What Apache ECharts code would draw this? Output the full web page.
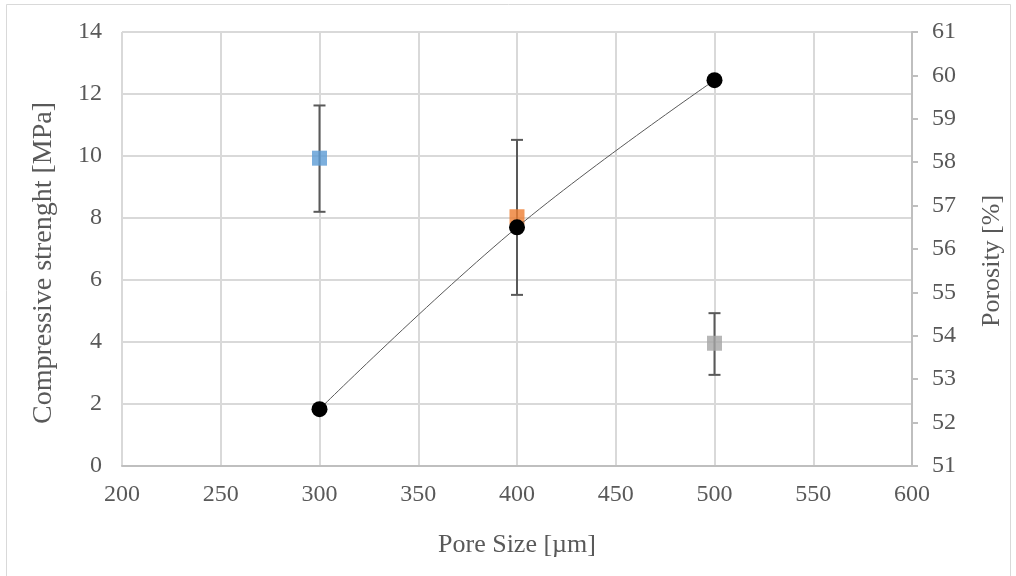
<!DOCTYPE html>
<html><head><meta charset="utf-8">
<script src="https://cdn.jsdelivr.net/npm/echarts@6/dist/echarts.min.js"></script>
<style>html,body{margin:0;padding:0;background:#fff}#c{width:1016px;height:576px}</style>
</head><body><div id="c"></div>
<script>
const poreSize = [300, 400, 500];
const strength = [9.93, 8.04, 3.96];
const errLow = [8.2, 5.52, 2.94];
const errHigh = [11.63, 10.52, 4.93];
const porosity = [52.31, 56.5, 59.89];
const markerColors = ['#5B9BD5', '#ED7D31', '#A5A5A5'];
const xTitle = 'Pore Size [µm]';
const yLeftTitle = 'Compressive strenght [MPa]';
const yRightTitle = 'Porosity [%]';

const txt = '#595959';
const font = 'Liberation Serif';
const chart = echarts.init(document.getElementById('c'));
chart.setOption({
  animation: false,
  backgroundColor: '#fff',
  graphic: [
    {type:'rect', shape:{x:6.5,y:4.5,width:1004,height:580}, style:{fill:'none', stroke:'#D9D9D9', lineWidth:1}},
    {type:'text', x:44, y:263, rotation:Math.PI/2,
     style:{text:yLeftTitle, fill:txt, font:'28px "Liberation Serif"', align:'center', verticalAlign:'middle'}},
    {type:'text', x:992, y:261, rotation:Math.PI/2,
     style:{text:yRightTitle, fill:txt, font:'26px "Liberation Serif"', align:'center', verticalAlign:'middle'}}
  ],
  grid: {left:122, right:104, top:32, bottom:110},
  xAxis: {type:'value', min:200, max:600, interval:50,
    name:xTitle, nameLocation:'middle', nameGap:66,
    nameTextStyle:{color:txt, fontFamily:font, fontSize:26},
    axisLine:{show:true, onZero:false, lineStyle:{color:'#BFBFBF', width:2}},
    axisTick:{show:false},
    axisLabel:{color:txt, fontFamily:font, fontSize:24, margin:17},
    splitLine:{show:true, lineStyle:{color:'#D9D9D9', width:2}}},
  yAxis: [
    {type:'value', min:0, max:14, interval:2,
     axisLine:{show:false}, axisTick:{show:false},
     axisLabel:{color:txt, fontFamily:font, fontSize:24, margin:20},
     splitLine:{show:true, lineStyle:{color:'#D9D9D9', width:2}}},
    {type:'value', min:51, max:61, interval:1, position:'right',
     axisLine:{show:true, lineStyle:{color:'#BFBFBF', width:2}},
     axisTick:{show:true, length:6, lineStyle:{color:'#BFBFBF', width:2}},
     axisLabel:{color:txt, fontFamily:font, fontSize:24, margin:20},
     splitLine:{show:false}}
  ],
  series: [
    {type:'custom', yAxisIndex:0, z:3,
     data: poreSize.map((x,i)=>[x, errLow[i], errHigh[i]]),
     renderItem: function(params, api){
       const lo = api.coord([api.value(0), api.value(1)]);
       const hi = api.coord([api.value(0), api.value(2)]);
       const w = 6;
       const st = {stroke:'#595959', lineWidth:2, fill:'none'};
       return {type:'group', children:[
         {type:'line', shape:{x1:lo[0],y1:lo[1],x2:hi[0],y2:hi[1]}, style:st},
         {type:'line', shape:{x1:lo[0]-w,y1:lo[1],x2:lo[0]+w,y2:lo[1]}, style:st},
         {type:'line', shape:{x1:hi[0]-w,y1:hi[1],x2:hi[0]+w,y2:hi[1]}, style:st}
       ]};
     }},
    {type:'scatter', yAxisIndex:0, z:4, symbol:'rect', symbolSize:15,
     data: poreSize.map((x,i)=>({value:[x, strength[i]], itemStyle:{color:markerColors[i]}}))},
    {type:'line', yAxisIndex:1, z:5, smooth:0.4, symbol:'circle', symbolSize:16,
     lineStyle:{color:'#595959', width:1},
     itemStyle:{color:'#000'},
     data: poreSize.map((x,i)=>[x, porosity[i]])}
  ]
});
</script></body></html>
